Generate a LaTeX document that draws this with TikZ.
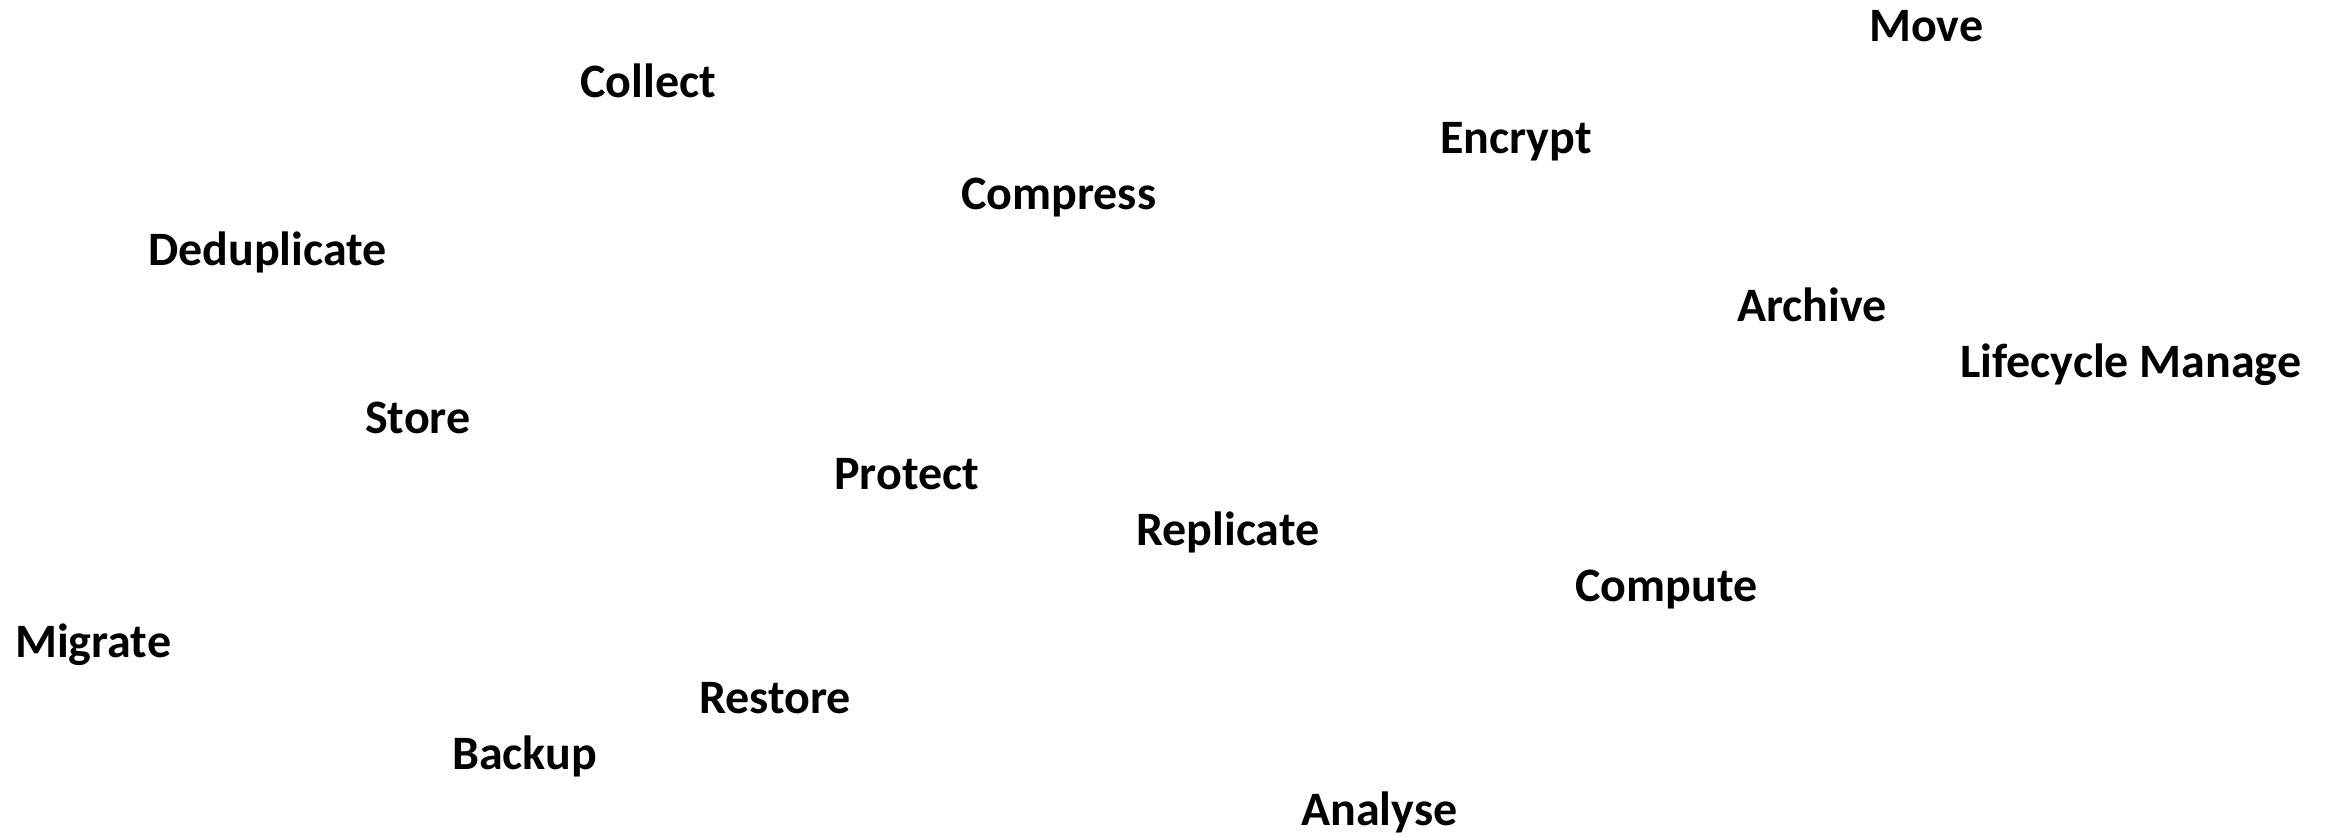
\documentclass[tikz,border=0pt]{standalone}
\usepackage{fontspec}
\setmainfont{Carlito}
\begin{document}
\begin{tikzpicture}[x=1pt,y=-1pt,
  lbl/.style={anchor=base west,inner sep=0pt,font=\fontsize{48}{52}\selectfont\bfseries}]
\useasboundingbox (0,0) rectangle (2331,836);
\node[lbl] (move) at (1869,41) {Move};
\node[lbl] (collect) at (580,97) {Collect};
\node[lbl] (encrypt) at (1440,153) {Encrypt};
\node[lbl] (compress) at (961,209) {Compress};
\node[lbl] (dedup) at (148,265) {Deduplicate};
\node[lbl] (archive) at (1737,321) {Archive};
\node[lbl] (lifecycle) at (1960,377) {Lifecycle Manage};
\node[lbl] (store) at (365,433) {Store};
\node[lbl] (protect) at (834,489) {Protect};
\node[lbl] (replicate) at (1136,545) {Replicate};
\node[lbl] (compute) at (1575,601) {Compute};
\node[lbl] (migrate) at (15,657) {Migrate};
\node[lbl] (restore) at (699,713) {Restore};
\node[lbl] (backup) at (452,769) {Backup};
\node[lbl] (analyse) at (1301,825) {Analyse};
\end{tikzpicture}
\end{document}
